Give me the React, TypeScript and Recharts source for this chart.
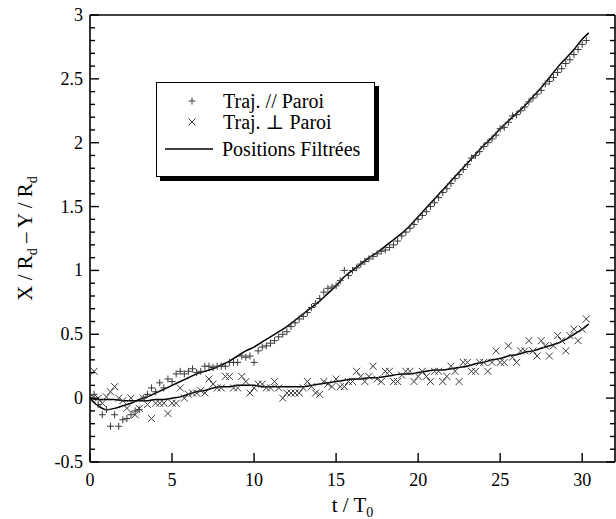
import React from "react";
import { ComposedChart, Scatter, Line, XAxis, YAxis, Legend } from "recharts";

// sample times (t / T0) of the two measured trajectories
const T_SAMPLES = [
  0, 0.25, 0.5, 0.75, 1, 1.25, 1.5, 1.75,
  2, 2.25, 2.5, 2.75, 3, 3.25, 3.5, 3.75,
  4, 4.25, 4.5, 4.75, 5, 5.25, 5.5, 5.75,
  6, 6.25, 6.5, 6.75, 7, 7.25, 7.5, 7.75,
  8, 8.25, 8.5, 8.75, 9, 9.25, 9.5, 9.75,
  10, 10.25, 10.5, 10.75, 11, 11.25, 11.5, 11.75,
  12, 12.25, 12.5, 12.75, 13, 13.25, 13.5, 13.75,
  14, 14.25, 14.5, 14.75, 15, 15.25, 15.5, 15.75,
  16, 16.25, 16.5, 16.75, 17, 17.25, 17.5, 17.75,
  18, 18.25, 18.5, 18.75, 19, 19.25, 19.5, 19.75,
  20, 20.25, 20.5, 20.75, 21, 21.25, 21.5, 21.75,
  22, 22.25, 22.5, 22.75, 23, 23.25, 23.5, 23.75,
  24, 24.25, 24.5, 24.75, 25, 25.25, 25.5, 25.75,
  26, 26.25, 26.5, 26.75, 27, 27.25, 27.5, 27.75,
  28, 28.25, 28.5, 28.75, 29, 29.25, 29.5, 29.75,
  30, 30.25,
];

// Traj. // Paroi  (X / Rd)
const PARALLEL = [
  0.02, 0.03, -0.05, -0.13, -0.09, -0.22, -0.13, -0.22,
  -0.17, -0.16, -0.13, -0.1, -0.09, 0.0, 0.03, 0.08,
  0.05, 0.12, 0.08, 0.15, 0.13, 0.19, 0.21, 0.19,
  0.21, 0.23, 0.2, 0.21, 0.25, 0.25, 0.24, 0.25,
  0.25, 0.25, 0.28, 0.28, 0.28, 0.33, 0.32, 0.33,
  0.28, 0.37, 0.4, 0.41, 0.43, 0.45, 0.48, 0.5,
  0.52, 0.56, 0.59, 0.62, 0.64, 0.67, 0.71, 0.74,
  0.78, 0.83, 0.86, 0.87, 0.88, 0.92, 1.0, 0.96,
  1.0, 1.02, 1.05, 1.07, 1.09, 1.11, 1.13, 1.15,
  1.16, 1.18, 1.2, 1.23, 1.27, 1.3, 1.33, 1.36,
  1.4, 1.43, 1.46, 1.5, 1.53, 1.57, 1.61, 1.64,
  1.68, 1.72, 1.75, 1.79, 1.83, 1.88, 1.9, 1.93,
  1.97, 2.0, 2.03, 2.06, 2.11, 2.12, 2.16, 2.21,
  2.22, 2.25, 2.28, 2.32, 2.35, 2.38, 2.41, 2.46,
  2.48, 2.51, 2.55, 2.58, 2.62, 2.65, 2.69, 2.73,
  2.77, 2.8,
];

// Traj. ⊥ Paroi  (Y / Rd)
const PERPENDICULAR = [
  -0.01, 0.21, 0.0, -0.04, 0.01, 0.05, 0.09, 0.0,
  -0.02, -0.08, 0.0, -0.13, -0.08, 0.0, -0.05, -0.16,
  -0.04, -0.04, -0.04, -0.12, -0.04, -0.04, 0.08, 0.0,
  0.03, 0.04, 0.04, 0.06, 0.04, 0.15, 0.11, 0.08,
  0.08, 0.17, 0.17, 0.08, 0.08, 0.17, 0.13, 0.04,
  0.08, 0.11, 0.11, 0.08, 0.08, 0.13, 0.08, 0.0,
  0.04, 0.04, 0.04, 0.04, 0.08, 0.13, 0.09, 0.04,
  0.03, 0.13, 0.11, 0.09, 0.15, 0.09, 0.09, 0.13,
  0.13, 0.21, 0.17, 0.13, 0.17, 0.25, 0.15, 0.13,
  0.21, 0.21, 0.13, 0.13, 0.18, 0.21, 0.21, 0.13,
  0.17, 0.21, 0.17, 0.13, 0.21, 0.21, 0.13, 0.17,
  0.25, 0.21, 0.13, 0.28, 0.28, 0.21, 0.21, 0.28,
  0.28, 0.21, 0.28, 0.37, 0.28, 0.28, 0.41, 0.32,
  0.28, 0.37, 0.37, 0.45, 0.37, 0.33, 0.45, 0.41,
  0.33, 0.41, 0.49, 0.45, 0.37, 0.49, 0.54, 0.45,
  0.54, 0.62,
];

// filtered positions
const FILTER_T = [
  0, 0.5, 1, 1.5, 2, 2.5, 3, 3.5, 4, 4.5, 5, 5.5, 6, 6.5, 7, 7.5,
  8, 8.5, 9, 9.5, 10, 10.5, 11, 11.5, 12, 12.5, 13, 13.5, 14, 14.5, 15, 15.5,
  16, 16.5, 17, 17.5, 18, 18.5, 19, 19.5, 20, 20.5, 21, 21.5, 22, 22.5, 23, 23.5,
  24, 24.5, 25, 25.5, 26, 26.5, 27, 27.5, 28, 28.5, 29, 29.5, 30, 30.4,
];
const FILTER_PARALLEL = [
  0, -0.06, -0.09, -0.08, -0.06, -0.04, -0.01, 0.01, 0.04, 0.07, 0.1, 0.13, 0.16, 0.19, 0.21, 0.23,
  0.26, 0.29, 0.33, 0.37, 0.4, 0.44, 0.48, 0.52, 0.56, 0.61, 0.66, 0.71, 0.76, 0.82, 0.88, 0.95,
  1.0, 1.05, 1.1, 1.14, 1.19, 1.24, 1.29, 1.35, 1.42, 1.49, 1.56, 1.63, 1.7, 1.77, 1.84, 1.91,
  1.98, 2.04, 2.11, 2.17, 2.23, 2.29, 2.36, 2.43, 2.51, 2.59, 2.66, 2.73, 2.81, 2.86,
];
const FILTER_PERP = [
  0, -0.01, -0.01, -0.01, -0.02, -0.02, -0.02, -0.02, -0.01, -0.01, 0.0, 0.01, 0.03, 0.05, 0.06, 0.08,
  0.09, 0.09, 0.1, 0.1, 0.1, 0.09, 0.09, 0.09, 0.09, 0.09, 0.09, 0.1, 0.11, 0.12, 0.13, 0.14,
  0.15, 0.15, 0.16, 0.16, 0.17, 0.18, 0.19, 0.19, 0.2, 0.21, 0.22, 0.22, 0.23, 0.24, 0.25, 0.27,
  0.28, 0.3, 0.31, 0.33, 0.34, 0.36, 0.37, 0.39, 0.41, 0.43, 0.46, 0.5, 0.54, 0.58,
];

const X_TICKS = [0, 5, 10, 15, 20, 25, 30];
const Y_TICKS = [
  -0.5, -0.4, -0.3, -0.2, -0.1, 0, 0.1, 0.2, 0.3, 0.4, 0.5, 0.6, 0.7, 0.8, 0.9, 1,
  1.1, 1.2, 1.3, 1.4, 1.5, 1.6, 1.7, 1.8, 1.9, 2, 2.1, 2.2, 2.3, 2.4, 2.5, 2.6,
  2.7, 2.8, 2.9, 3,
];

const SERIES_NAMES = ["Traj. // Paroi", "Traj. \u22A5 Paroi", "Positions Filtrées"];

const FONT = "Liberation Serif, DejaVu Serif, Noto Serif, serif";
const MARKER = "#3a3a3a";

const parData = T_SAMPLES.map((t, i) => ({ t, v: PARALLEL[i] }));
const perpData = T_SAMPLES.map((t, i) => ({ t, v: PERPENDICULAR[i] }));
const filtParData = FILTER_T.map((t, i) => ({ t, v: FILTER_PARALLEL[i] }));
const filtPerpData = FILTER_T.map((t, i) => ({ t, v: FILTER_PERP[i] }));

const isMajor = (v: number) => Math.abs(v * 2 - Math.round(v * 2)) < 1e-6;
const fmt = (v: number) => String(Math.round(v * 10) / 10);

function PlusMark(props: any) {
  const { cx, cy } = props;
  if (cx == null || cy == null) return null;
  return (
    <path
      d={`M${cx - 3.5},${cy}h7M${cx},${cy - 3.5}v7`}
      stroke={MARKER}
      strokeWidth={1}
      fill="none"
    />
  );
}

function CrossMark(props: any) {
  const { cx, cy } = props;
  if (cx == null || cy == null) return null;
  return (
    <path
      d={`M${cx - 3.5},${cy - 3.5}l7,7M${cx - 3.5},${cy + 3.5}l7,-7`}
      stroke={MARKER}
      strokeWidth={1}
      fill="none"
    />
  );
}

const BottomTick = ({ x, y, payload }: any) => (
  <g>
    <line x1={x} y1={y} x2={x} y2={y - 9} stroke="#000" strokeWidth={1.4} />
    <text x={x} y={y + 24} textAnchor="middle" fontSize={18} fontFamily={FONT} fill="#000">
      {payload.value}
    </text>
  </g>
);

const TopTick = ({ x, y }: any) => (
  <line x1={x} y1={y} x2={x} y2={y + 9} stroke="#000" strokeWidth={1.4} />
);

const LeftTick = ({ x, y, payload }: any) => {
  const major = isMajor(payload.value);
  return (
    <g>
      <line x1={x} y1={y} x2={x + (major ? 9 : 5)} y2={y} stroke="#000" strokeWidth={1.4} />
      {major && (
        <text x={x - 7} y={y + 6} textAnchor="end" fontSize={18} fontFamily={FONT} fill="#000">
          {fmt(payload.value)}
        </text>
      )}
    </g>
  );
};

const RightTick = ({ x, y, payload }: any) => {
  const major = isMajor(payload.value);
  return <line x1={x} y1={y} x2={x - (major ? 9 : 5)} y2={y} stroke="#000" strokeWidth={1.4} />;
};

const YTitle = ({ viewBox }: any) => {
  const cx = viewBox.x + 32;
  const cy = viewBox.y + viewBox.height / 2;
  return (
    <text
      x={cx}
      y={cy}
      transform={`rotate(-90, ${cx}, ${cy})`}
      textAnchor="middle"
      fontSize={21}
      fontFamily={FONT}
      fill="#000"
    >
      <tspan>X / R</tspan>
      <tspan fontSize={14} dy={5}>d</tspan>
      <tspan dy={-5}> – Y / R</tspan>
      <tspan fontSize={14} dy={5}>d</tspan>
    </text>
  );
};

const XTitle = ({ viewBox }: any) => {
  const cx = viewBox.x + viewBox.width / 2;
  const cy = viewBox.y + 50;
  return (
    <text x={cx} y={cy} textAnchor="middle" fontSize={21} fontFamily={FONT} fill="#000">
      <tspan>t / T</tspan>
      <tspan fontSize={14} dy={5}>0</tspan>
    </text>
  );
};

const LegendBox = () => (
  <div
    style={{
      width: 219,
      height: 95,
      boxSizing: "border-box",
      border: "1.5px solid #000",
      boxShadow: "4px 4px 0 #000",
      background: "#fff",
    }}
  >
    <svg width={216} height={92} style={{ display: "block" }}>
      <PlusMark cx={35} cy={18} />
      <text x={66} y={25} fontSize={20} fontFamily={FONT} fill="#000">
        {SERIES_NAMES[0]}
      </text>
      <CrossMark cx={35} cy={39} />
      <text x={66} y={46} fontSize={20} fontFamily={FONT} fill="#000">
        {SERIES_NAMES[1]}
      </text>
      <line x1={8} y1={66} x2={56} y2={66} stroke="#000" strokeWidth={1.4} />
      <text x={65} y={73} fontSize={20} fontFamily={FONT} fill="#000">
        {SERIES_NAMES[2]}
      </text>
    </svg>
  </div>
);

export default function App() {
  return (
    <div style={{ position: "absolute", left: 0, top: 0, background: "#fff" }}>
      <ComposedChart
        width={616}
        height={519}
        margin={{ top: 14, right: 0, bottom: 0, left: 0 }}
        style={{ fontFamily: FONT }}
      >
        <XAxis
          dataKey="t"
          type="number"
          domain={[0, 32]}
          ticks={X_TICKS}
          interval={0}
          allowDataOverflow
          height={57}
          tickSize={0}
          tickMargin={0}
          tickLine={false}
          axisLine={{ stroke: "#000", strokeWidth: 1.6 }}
          tick={<BottomTick />}
          label={{ content: <XTitle /> }}
        />
        <XAxis
          xAxisId="top"
          orientation="top"
          type="number"
          domain={[0, 32]}
          ticks={X_TICKS}
          interval={0}
          allowDataOverflow
          height={1}
          tickSize={0}
          tickMargin={0}
          tickLine={false}
          axisLine={{ stroke: "#000", strokeWidth: 1.6 }}
          tick={<TopTick />}
        />
        <YAxis
          type="number"
          domain={[-0.5, 3]}
          ticks={Y_TICKS}
          interval={0}
          allowDataOverflow
          width={90}
          tickSize={0}
          tickMargin={0}
          tickLine={false}
          axisLine={{ stroke: "#000", strokeWidth: 1.6 }}
          tick={<LeftTick />}
          label={{ content: <YTitle /> }}
        />
        <YAxis
          yAxisId="right"
          orientation="right"
          type="number"
          domain={[-0.5, 3]}
          ticks={Y_TICKS}
          interval={0}
          allowDataOverflow
          width={1}
          tickSize={0}
          tickMargin={0}
          tickLine={false}
          axisLine={{ stroke: "#000", strokeWidth: 1.6 }}
          tick={<RightTick />}
        />
        <Scatter
          name={SERIES_NAMES[0]}
          data={parData}
          dataKey="v"
          shape={<PlusMark />}
          isAnimationActive={false}
        />
        <Scatter
          name={SERIES_NAMES[1]}
          data={perpData}
          dataKey="v"
          shape={<CrossMark />}
          isAnimationActive={false}
        />
        <Line
          data={filtParData}
          dataKey="v"
          type="monotone"
          stroke="#000"
          strokeWidth={1.5}
          dot={false}
          activeDot={false}
          isAnimationActive={false}
        />
        <Line
          data={filtPerpData}
          dataKey="v"
          type="monotone"
          stroke="#000"
          strokeWidth={1.5}
          dot={false}
          activeDot={false}
          isAnimationActive={false}
        />
        <Legend
          layout="vertical"
          align="center"
          verticalAlign="middle"
          content={<LegendBox />}
          wrapperStyle={{ left: 156, top: 82, width: 219, height: 95 }}
        />
      </ComposedChart>
    </div>
  );
}
